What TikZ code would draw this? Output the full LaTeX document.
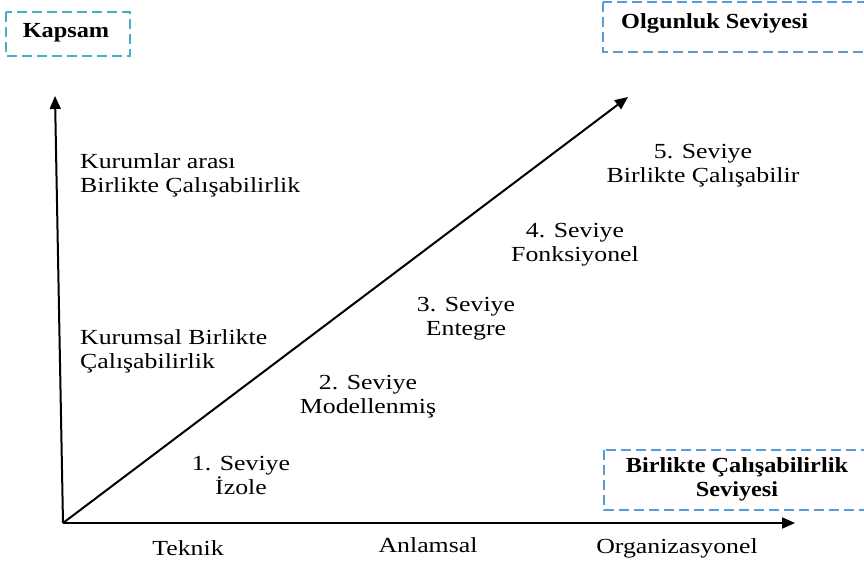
\documentclass[tikz,border=0pt]{standalone}
\usepackage{fontspec}
\setmainfont{Liberation Serif}[FakeStretch=1.2]
\newfontfamily\boldserif{Liberation Serif}[FakeStretch=1.13,UprightFont=*-Bold]
\usetikzlibrary{arrows.meta}
\definecolor{tealdash}{HTML}{4BACC6}
\definecolor{bluedash}{HTML}{5B9BD5}
\begin{document}
\begin{tikzpicture}[x=1pt,y=-1pt,
  lbl/.style={font=\fontsize{21.5}{24}\selectfont, align=center, inner sep=0pt},
  lbll/.style={lbl, align=left, anchor=west},
  bx/.style={draw=#1, line width=2.5pt, dash pattern=on 10pt off 5pt},
  btxt/.style={font=\boldserif\fontsize{21.5}{24}\selectfont, align=center, inner sep=0pt},
  axis/.style={line width=2pt, -{Triangle[length=13pt,width=11pt]}}]
\useasboundingbox (0,0) rectangle (864,562);
% dashed boxes
\draw[bx=tealdash] (6,12) rectangle (130,56);
\node[btxt] (kapsam) at (66,33) {Kapsam};
\draw[bx=bluedash] (603,2) rectangle (880,52);
\node[btxt, anchor=west] (olg) at (621,23) {Olgunluk Seviyesi};
\draw[bx=bluedash] (604,450) rectangle (880,510);
\node[btxt] (bcs) at (737,479) {Birlikte Çalışabilirlik\\Seviyesi};
% axes
\coordinate (origin) at (63,523);
\coordinate (ytop) at (55,96);
\coordinate (xend) at (795,523);
\coordinate (dtop) at (628,97);
\draw[axis] (origin) -- (ytop);
\draw[axis] (origin) -- (xend);
\draw[axis] (origin) -- (dtop);
% left labels
\node[lbll] (kurumlar) at (80,175) {Kurumlar arası\\Birlikte Çalışabilirlik};
\node[lbll] (kurumsal) at (80,351) {Kurumsal Birlikte\\Çalışabilirlik};
% levels
\node[lbl] (s1) at (241,475) {1. Seviye\\İzole};
\node[lbl] (s2) at (368,397) {2. Seviye\\Modellenmiş};
\node[lbl] (s3) at (466,319) {3. Seviye\\Entegre};
\node[lbl] (s4) at (575,245) {4. Seviye\\Fonksiyonel};
\node[lbl] (s5) at (703,166) {5. Seviye\\Birlikte Çalışabilir};
% x labels
\node[lbl] (teknik) at (188,548) {Teknik};
\node[lbl] (anlamsal) at (428,545) {Anlamsal};
\node[lbl] (org) at (677,548) {Organizasyonel};
\end{tikzpicture}
\end{document}
